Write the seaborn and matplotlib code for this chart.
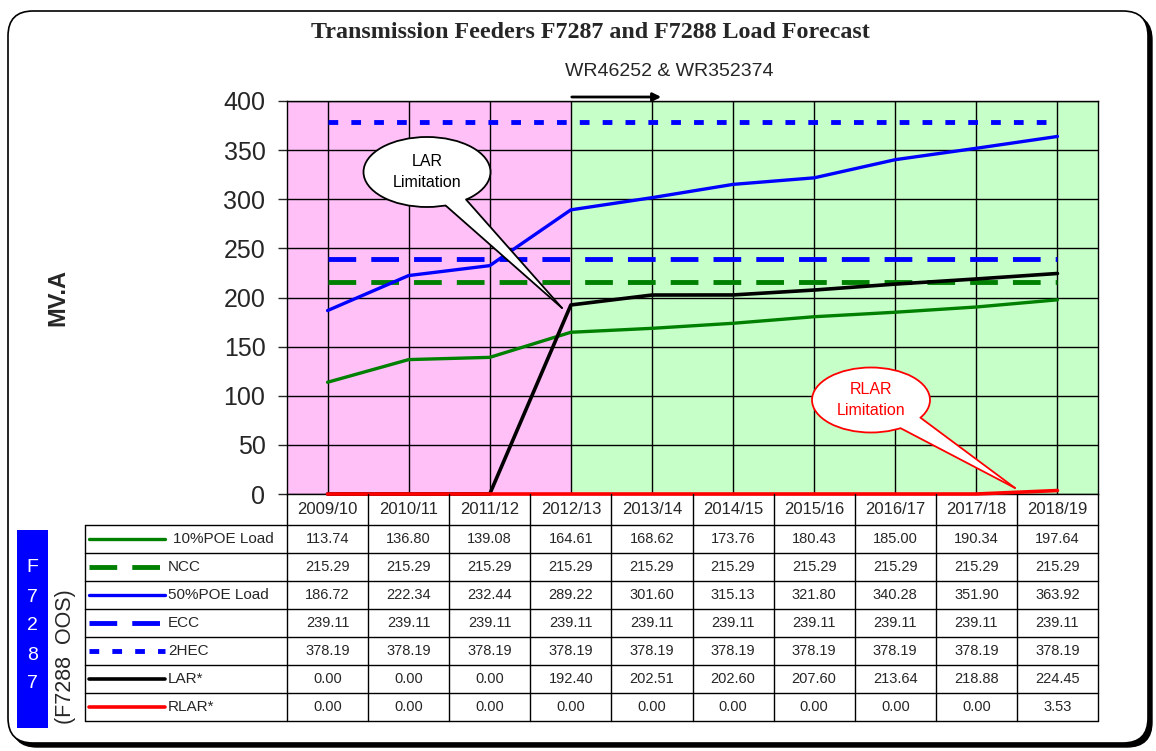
import numpy as np
import pandas as pd
import matplotlib
matplotlib.use("Agg")
import matplotlib.pyplot as plt
import seaborn as sns
from matplotlib.patches import Ellipse, Polygon, FancyBboxPatch, Rectangle

years = ['2009/10', '2010/11', '2011/12', '2012/13', '2013/14',
         '2014/15', '2015/16', '2016/17', '2017/18', '2018/19']
poe10 = [113.74, 136.80, 139.08, 164.61, 168.62, 173.76, 180.43, 185.00, 190.34, 197.64]
ncc = [215.29] * 10
poe50 = [186.72, 222.34, 232.44, 289.22, 301.60, 315.13, 321.80, 340.28, 351.90, 363.92]
ecc = [239.11] * 10
hec2 = [378.19] * 10
lar = [0.00, 0.00, 0.00, 192.40, 202.51, 202.60, 207.60, 213.64, 218.88, 224.45]
rlar = [0.00, 0.00, 0.00, 0.00, 0.00, 0.00, 0.00, 0.00, 0.00, 3.53]
names = ['10%POE Load', 'NCC', '50%POE Load', 'ECC', '2HEC', 'LAR*', 'RLAR*']

GREEN = '#008000'
BLUE = '#0000FF'
styles = [
    (poe10, GREEN, 2.4, '-'),
    (ncc, GREEN, 3.5, (0, (5.7, 3.1))),
    (poe50, BLUE, 2.4, '-'),
    (ecc, BLUE, 3.5, (0, (5.7, 3.1))),
    (hec2, BLUE, 3.5, (0, (2.0, 2.7))),
    (lar, 'black', 2.6, '-'),
    (rlar, '#FF0000', 2.6, '-'),
]

sns.set_style("white")
plt.rcParams['font.family'] = ['Liberation Sans', 'DejaVu Sans']

W, H = 1156, 751
fig = plt.figure(figsize=(W / 100, H / 100), dpi=100)

# background frame (pixel coordinates, y down)
bg = fig.add_axes([0, 0, 1, 1], zorder=0)
bg.set_xlim(0, W)
bg.set_ylim(H, 0)
bg.axis('off')
bg.add_patch(FancyBboxPatch((12, 15), 1140, 732, boxstyle="round,pad=0,rounding_size=25",
                            fc='black', ec='black', lw=1))
bg.add_patch(FancyBboxPatch((8, 11), 1140, 732, boxstyle="round,pad=0,rounding_size=25",
                            fc='white', ec='black', lw=1.2))

# main plot area
L, R, T, B = 287, 1098, 101, 494
ax = fig.add_axes([L / W, 1 - B / H, (R - L) / W, (B - T) / H], zorder=1)
ax.axvspan(-0.5, 3, color='#FFC0F8', zorder=0, lw=0)
ax.axvspan(3, 9.5, color='#C6FFC8', zorder=0, lw=0)

for vals, col, lw, ls in styles:
    sns.lineplot(x=years, y=vals, color=col, lw=lw, ls=ls, ax=ax, sort=False,
                 clip_on=False, zorder=3)

ax.set_xlim(-0.5, 9.5)
ax.set_ylim(0, 400)
ax.set_yticks(np.arange(0, 401, 50))
ax.set_xticks(range(len(years)))
ax.set_xticklabels(years)
ax.set_axisbelow(True)
ax.grid(True, color='black', lw=1)
ax.tick_params(axis='y', direction='out', length=6.5, width=1, labelsize=18, pad=9, left=True)
ax.tick_params(axis='x', length=0, labelsize=12, pad=6)
for sp in ax.spines.values():
    sp.set_color('black')
    sp.set_linewidth(1)
ax.set_xlabel('')
ax.set_ylabel('')

# overlay for table, callouts and texts
ov = fig.add_axes([0, 0, 1, 1], zorder=2)
ov.set_xlim(0, W)
ov.set_ylim(H, 0)
ov.axis('off')
ov.patch.set_alpha(0)

colw = (R - L) / len(years)
row0, rowh = 525, 28
nrows = len(names)
tbl_bot = row0 + rowh * nrows
for i in range(len(years) + 1):
    ov.plot([L + i * colw] * 2, [B, tbl_bot], color='black', lw=1)
ov.plot([85, 85], [row0, tbl_bot], color='black', lw=1)
for k in range(nrows + 1):
    ov.plot([85, R], [row0 + k * rowh] * 2, color='black', lw=1)

table_vals = [poe10, ncc, poe50, ecc, hec2, lar, rlar]
for k, (name, vals, st) in enumerate(zip(names, table_vals, styles)):
    yc = row0 + (k + 0.5) * rowh
    _, col, lw, ls = st
    ov.plot([89, 165], [yc, yc], color=col, lw=lw, ls=ls, solid_capstyle='round')
    xoff = 173 if k == 0 else 168
    ov.text(xoff, yc, name, ha='left', va='center', fontsize=11)
    for i, v in enumerate(vals):
        ov.text(L + (i + 0.5) * colw, yc, f"{v:.2f}", ha='center', va='center', fontsize=10.5)

# side labels
ov.add_patch(Rectangle((17, 530), 31, 198, fc=BLUE, ec='none'))
for i, ch in enumerate("F7287"):
    ov.text(32.5, 568 + 29 * i, ch, color='white', ha='center', va='center', fontsize=14)
ov.text(65, 657, "(F7288  OOS)", rotation=90, ha='center', va='center', fontsize=15.5)


def callout(cx, cy, w, h, a1, a2, tip, color, label):
    ov.add_patch(Ellipse((cx, cy), w, h, fc='white', ec=color, lw=1.3, zorder=5))
    p = []
    for a in (a1, a2):
        r = np.deg2rad(a)
        p.append((cx + w / 2 * np.cos(r), cy + h / 2 * np.sin(r)))
    inner = [(cx + (x - cx) * 0.85, cy + (y - cy) * 0.85) for x, y in p]
    ov.add_patch(Polygon([inner[0], p[0], tip, p[1], inner[1]], closed=True,
                         fc='white', ec='none', zorder=6))
    for x, y in p:
        ov.plot([x, tip[0]], [y, tip[1]], color=color, lw=1.3, zorder=7)
    ov.text(cx, cy, label, ha='center', va='center', color=color, fontsize=11.5,
            linespacing=1.5, zorder=8)


callout(427, 172, 127, 70, 73, 52, (562, 308), 'black', "LAR\nLimitation")
callout(871, 400, 118, 65, 60, 33, (1015, 488), '#FF0000', "RLAR\nLimitation")

# titles and annotations
ov.text(590, 32, "Transmission Feeders F7287 and F7288 Load Forecast", ha='center', va='center',
        fontsize=17.3, fontweight='bold', family='Liberation Serif')
ov.text(669, 72, "WR46252 & WR352374", ha='center', va='center', fontsize=14)
ov.annotate('', xy=(664, 97), xytext=(569, 97),
            arrowprops=dict(arrowstyle='-|>', color='black', lw=2, mutation_scale=12))
ov.text(58, 297, "MV.A", rotation=90, ha='center', va='center', fontsize=17, fontweight='bold')

fig.savefig("out.png", dpi=100)
